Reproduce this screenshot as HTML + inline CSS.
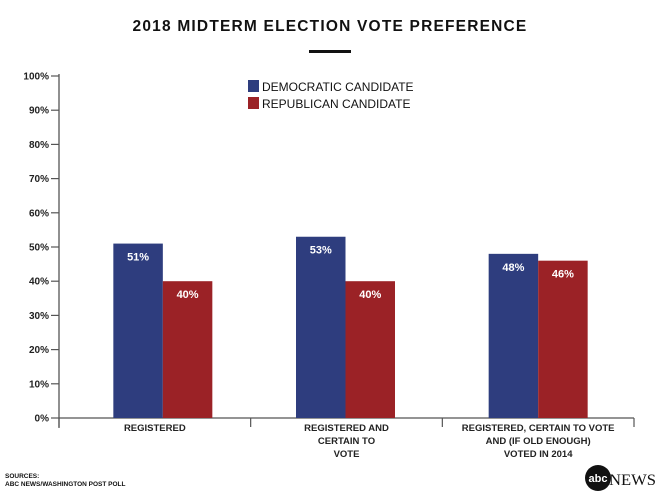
<!DOCTYPE html>
<html><head><meta charset="utf-8"><style>
body{margin:0;background:#fff;font-family:"Liberation Sans",sans-serif}
svg{display:block}
</style></head><body>
<svg width="660" height="502" id="c">
<text x="330" y="31" text-anchor="middle" font-size="15.5" font-weight="bold" letter-spacing="1.2" fill="#111">2018 MIDTERM ELECTION VOTE PREFERENCE</text>
<rect x="309" y="50" width="42" height="3" fill="#111"/>
<g>
<rect x="248" y="80" width="11" height="12" fill="#2e3d7e"/>
<text x="262" y="91" font-size="12" fill="#111">DEMOCRATIC CANDIDATE</text>
<rect x="248" y="97" width="11" height="12" fill="#9b2226"/>
<text x="262" y="108" font-size="12" fill="#111">REPUBLICAN CANDIDATE</text>
</g>
<g id="axes"></g>
<g id="bars"></g>
<text x="5" y="478" font-size="6.5" font-weight="bold" fill="#111">SOURCES:</text>
<text x="5" y="486" font-size="6.5" font-weight="bold" fill="#111">ABC NEWS/WASHINGTON POST POLL</text>
<g>
<circle cx="598" cy="478" r="13" fill="#111"/>
<text x="598" y="482" text-anchor="middle" font-size="11" font-weight="bold" fill="#fff">abc</text>
<text x="609" y="485" font-family="Liberation Serif,serif" font-size="16" fill="#111" textLength="47" lengthAdjust="spacingAndGlyphs">NEWS</text>
</g>
</svg>
<script>
const categories=[["REGISTERED"],["REGISTERED AND","CERTAIN TO","VOTE"],["REGISTERED, CERTAIN TO VOTE","AND (IF OLD ENOUGH)","VOTED IN 2014"]];
const demValues=[51,53,48];
const repValues=[40,40,46];
const yTicks=[0,10,20,30,40,50,60,70,80,90,100];
const NS="http://www.w3.org/2000/svg";
const y0=418,y100=76,xL=59,xR=634;
const barOffset=[8,-1,0];
const y=v=>y0-(y0-y100)*v/100;
const gw=(xR-xL)/categories.length;
const gx=i=>xL+gw*i;
function mk(t,a,p){const e=document.createElementNS(NS,t);for(const k in a)e.setAttribute(k,a[k]);p.appendChild(e);return e;}
const ax=document.getElementById('axes'),bs=document.getElementById('bars');
const yl=mk('line',{x1:xL,y1:74,x2:xL,y2:428,stroke:'#555','stroke-width':1.3},ax);


yTicks.forEach(t=>{
 const l=mk('line',{x1:xL-8,x2:xL,y1:y(t),y2:y(t),stroke:'#555','stroke-width':1.2},ax);
 
 
 const tx=mk('text',{x:xL-10,y:y(t)+3.5,'text-anchor':'end','font-size':10,'font-weight':'bold',fill:'#222'},ax);
 tx.textContent=t+'%';
 
 
});
const xl=mk('line',{x1:xL,y1:y0,x2:xR,y2:y0,stroke:'#555','stroke-width':1.3},ax);


for(let i=0;i<=categories.length;i++){
 const l=mk('line',{x1:gx(i),x2:gx(i),y1:y0,y2:y0+9,stroke:'#555','stroke-width':1.2},ax);
 
 
}
categories.forEach((c,i)=>{
 const cx=gx(i)+gw/2;
 c.forEach((ln,j)=>{
  const t=mk('text',{x:cx,y:y0+13+j*13,'text-anchor':'middle','font-size':9.5,'font-weight':'bold',fill:'#222'},ax);
  t.textContent=ln;
  
  
 });
 const bw=49.5, bc=cx+barOffset[i];
 [[demValues[i],'#2e3d7e',bc-bw,'dem'],[repValues[i],'#9b2226',bc,'rep']].forEach(([v,col,x,s])=>{
  const r=mk('rect',{x:x,y:y(v),width:bw,height:y0-y(v),fill:col},bs);
  
  
  const t=mk('text',{x:x+bw/2,y:y(v)+17,'text-anchor':'middle','font-size':11,'font-weight':'bold',fill:'#fff'},bs);
  t.textContent=v+'%';
  
  
 });
});
</script>
</body></html>
